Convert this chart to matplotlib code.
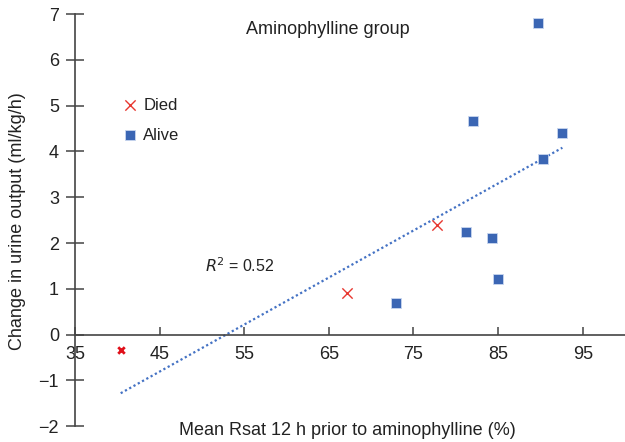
import numpy as np
import matplotlib
matplotlib.use("Agg")
import matplotlib.pyplot as plt

plt.rcParams['font.family'] = ['Liberation Sans', 'DejaVu Sans']

# Died group (x = mean Rsat %, y = change in urine output)
died_x = [40.4, 67.15, 77.76]
died_y = [-0.33, 0.91, 2.40]

# Alive group
alive_x = [72.9, 81.2, 84.3, 85.0, 82.0, 89.7, 90.3, 92.6]
alive_y = [0.70, 2.23, 2.11, 1.21, 4.66, 6.81, 3.84, 4.40]

x_ticks = [35, 45, 55, 65, 75, 85, 95]
y_ticks = [-2, -1, 0, 1, 2, 3, 4, 5, 6, 7]
r2_text = "0.52"

RED = '#e8372f'
BLUE = '#3b66b4'

fig = plt.figure(figsize=(6.25, 4.42), dpi=100)
ax = fig.add_axes([0.12, 0.036, 0.88, 0.932])

# linear trend line over all points
all_x = np.array(died_x + alive_x)
all_y = np.array(died_y + alive_y)
slope, intercept = np.polyfit(all_x, all_y, 1)
xs = np.array([all_x.min(), all_x.max()])
ax.plot(xs, slope * xs + intercept, linestyle=(0, (1, 1.2)), color='#4472c4', lw=1.6)

ax.scatter(alive_x, alive_y, marker='s', s=48, color=BLUE, edgecolors='#c9d6ef',
           linewidths=0.6, zorder=3)
ax.scatter(died_x[1:], died_y[1:], marker='x', s=55, color=RED, linewidths=1.0, zorder=3)
ax.scatter(died_x[:1], died_y[:1], marker='x', s=22, color='#e0101a', linewidths=2.0, zorder=3)

ax.set_xlim(35, 100)
ax.set_ylim(-2, 7)
ax.set_xticks(x_ticks)
ax.set_yticks(y_ticks)
ax.set_yticklabels([str(v).replace('-', '\u2212') for v in y_ticks])

for s in ['top', 'right']:
    ax.spines[s].set_visible(False)
ax.spines['bottom'].set_position(('data', 0))
ax.spines['bottom'].set_bounds(35, 100)
ax.spines['left'].set_bounds(-2, 7)
for s in ['bottom', 'left']:
    ax.spines[s].set_color('#444444')
    ax.spines[s].set_linewidth(1.2)

ax.tick_params(axis='x', direction='in', length=6, width=1.1, color='#444444',
               labelsize=13, pad=8, labelcolor='#222222')
ax.tick_params(axis='y', direction='inout', length=13, width=1.1, color='#444444',
               labelsize=13, pad=5, labelcolor='#222222')

ax.text(0.46, 0.963, "Aminophylline group", transform=ax.transAxes, ha='center',
        va='center', fontsize=13, color='#222222')
ax.text(0.237, 0.389, "$R$$^{2}$ = " + r2_text, transform=ax.transAxes, ha='left',
        va='center', fontsize=11.5, color='#222222')

# legend drawn by hand next to the markers
ax.scatter([0.10], [0.779], transform=ax.transAxes, marker='x', s=55, color=RED, linewidths=1.0)
ax.scatter([0.10], [0.706], transform=ax.transAxes, marker='s', s=48, color=BLUE,
           edgecolors='#c9d6ef', linewidths=0.6)
ax.text(0.124, 0.779, "Died", transform=ax.transAxes, va='center', fontsize=12, color='#222222')
ax.text(0.124, 0.706, "Alive", transform=ax.transAxes, va='center', fontsize=12, color='#222222')

fig.text(0.555, 0.025, "Mean Rsat 12 h prior to aminophylline (%)", ha='center',
         va='center', fontsize=13, color='#222222')
fig.text(0.028, 0.5, "Change in urine output (ml/kg/h)", ha='center', va='center',
         rotation=90, fontsize=13, color='#222222')

fig.savefig("out.png", dpi=100)
